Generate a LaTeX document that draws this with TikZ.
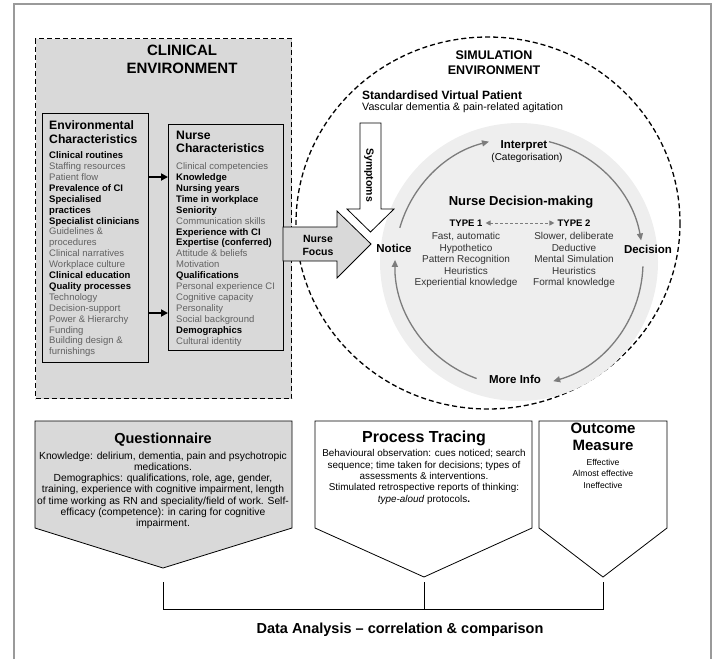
\documentclass[tikz,border=0pt]{standalone}
\usepackage{fontspec}
\setmainfont{Liberation Sans}
\usetikzlibrary{arrows.meta}

\definecolor{panelgrey}{HTML}{D9D9D9}
\definecolor{discgrey}{HTML}{EEEEEE}
\definecolor{framegrey}{HTML}{9A9A9A}
\definecolor{itemgrey}{HTML}{626262}
\definecolor{cyclegrey}{HTML}{7C7C7C}
\definecolor{typegrey}{HTML}{333333}

% bold black entry inside a grey list
\newcommand{\keyitem}[1]{{\color{black}\bfseries #1}}

\begin{document}
\begin{tikzpicture}[x=1pt, y=-1pt,
  every node/.style={inner sep=0pt},
  panel/.style={draw, fill=panelgrey, line width=0.8pt},
  envzone/.style={draw, fill=panelgrey, line width=1.3pt, dash pattern=on 5pt off 3pt},
  simzone/.style={draw, line width=1.3pt, dash pattern=on 5pt off 3pt},
  zonetitle/.style={font=\bfseries\fontsize{15}{18}\selectfont, align=center, anchor=north},
  boxtitle/.style={font=\bfseries\fontsize{12.2}{13.5}\selectfont, align=left, anchor=north west},
  itemlist/.style={font=\fontsize{9.5}{10.9}\selectfont, text=itemgrey, align=left, anchor=north west},
  pushline/.style={-{Triangle[length=7pt,width=7pt]}, line width=1.8pt},
  blockarrow/.style={draw, line width=0.8pt, line join=miter},
  stagelabel/.style={font=\bfseries\fontsize{11.5}{14}\selectfont},
  cyclearrow/.style={draw=cyclegrey, line width=1.3pt, -{Triangle[length=7pt,width=6pt]}},
  typelist/.style={font=\fontsize{10}{11.5}\selectfont, text=typegrey, align=center, anchor=north},
  pentatitle/.style={font=\bfseries\fontsize{14.5}{17}\selectfont, align=center},
  pentabody/.style={font=\fontsize{10.3}{11.3}\selectfont, align=center, anchor=north}
]
\useasboundingbox (0,0) rectangle (720,659);

% outer frame, open at the foot
\draw[framegrey, line width=2pt] (14,659) -- (14,4) -- (711,4) -- (711,659);

% clinical environment
\node[envzone, minimum width=256pt, minimum height=360pt, anchor=north west] (clinical) at (35,38) {};
\node[zonetitle] (clinicaltitle) at (182,44.6) {CLINICAL\\ENVIRONMENT};

\node[panel, minimum width=106pt, minimum height=249pt, anchor=north west] (envchar) at (42,113) {};
\node[boxtitle] (envtitle) at (49,120.6) {Environmental\\Characteristics};
\node[itemlist] (envlist) at (49,151.6) {\keyitem{Clinical routines}\\
Staffing resources\\
Patient flow\\
\keyitem{Prevalence of CI}\\
\keyitem{Specialised}\\
\keyitem{practices}\\
\keyitem{Specialist clinicians}\\
Guidelines \&\\
procedures\\
Clinical narratives\\
Workplace culture\\
\keyitem{Clinical education}\\
\keyitem{Quality processes}\\
Technology\\
Decision-support\\
Power \& Hierarchy\\
Funding\\
Building design \&\\
furnishings};

\node[panel, minimum width=115pt, minimum height=226pt, anchor=north west] (nursechar) at (168,124) {};
\node[boxtitle] (nursetitle) at (176,130.6) {Nurse\\Characteristics};
\node[itemlist] (nurselist) at (176,162.6) {Clinical competencies\\
\keyitem{Knowledge}\\
\keyitem{Nursing years}\\
\keyitem{Time in workplace}\\
\keyitem{Seniority}\\
Communication skills\\
\keyitem{Experience with CI}\\
\keyitem{Expertise (conferred)}\\
Attitude \& beliefs\\
Motivation\\
\keyitem{Qualifications}\\
Personal experience CI\\
Cognitive capacity\\
Personality\\
Social background\\
\keyitem{Demographics}\\
Cultural identity};

\coordinate (linkA) at (0,177);
\coordinate (linkB) at (0,313);
\draw[pushline] (envchar.east |- linkA) -- (nursechar.west |- linkA);
\draw[pushline] (envchar.east |- linkB) -- (nursechar.west |- linkB);

% simulation environment
\coordinate (simcentre) at (488,223);
\coordinate (hub) at (519,262);
\draw[simzone] (simcentre) ellipse [x radius=192, y radius=186];
\fill[discgrey] (hub) circle [radius=139];
\node[zonetitle, font=\fontsize{12.5}{15}\selectfont] (simtitle) at (494,50.5) {\textbf{SIMULATION}\\\textbf{ENVIRONMENT}};
\node[anchor=west, font=\bfseries\fontsize{12}{14}\selectfont] (svp) at (362,95) {Standardised Virtual Patient};
\node[anchor=west, font=\fontsize{10.7}{13}\selectfont] (svpcase) at (362,108) {Vascular dementia \& pain-related agitation};

% decision cycle
\draw[cyclearrow] ([shift={(196:124)}]hub) arc [start angle=196, end angle=256, radius=124];
\draw[cyclearrow] ([shift={(284:124)}]hub) arc [start angle=284, end angle=350, radius=124];
\draw[cyclearrow] ([shift={(2:124)}]hub) arc [start angle=2, end angle=74, radius=124];
\draw[cyclearrow] ([shift={(110:124)}]hub) arc [start angle=110, end angle=181, radius=124];

\node[stagelabel] (notice) at (394,248) {Notice};
\node[stagelabel] (interpret) at (524,146) {Interpret};
\node[font=\fontsize{10}{12}\selectfont] (categorise) at (527,158) {(Categorisation)};
\node[stagelabel] (decision) at (648,249) {Decision};
\node[stagelabel] (moreinfo) at (515,379) {More Info};

\node[font=\bfseries\fontsize{13}{15}\selectfont] (decmaking) at (521,202) {Nurse Decision-making};
\node[font=\bfseries\fontsize{9.5}{11}\selectfont] (type1) at (466,223) {TYPE 1};
\node[font=\bfseries\fontsize{9.5}{11}\selectfont] (type2) at (574,223) {TYPE 2};
\draw[cyclegrey, line width=0.9pt, dash pattern=on 3pt off 2pt, {Triangle[length=5pt,width=5pt]}-{Triangle[length=5pt,width=5pt]}, shorten <=3pt, shorten >=3pt] (type1) -- (type2);
\node[typelist] (fastlist) at (466,232.4) {Fast, automatic\\Hypothetico\\Pattern Recognition\\Heuristics\\Experiential knowledge};
\node[typelist] (slowlist) at (574,232.4) {Slower, deliberate\\Deductive\\Mental Simulation\\Heuristics\\Formal knowledge};

% block arrows into the cycle
\draw[blockarrow, fill=white] (360,123) -- (381,123) -- (381,209) -- (394,209) -- (370.5,232) -- (347,209) -- (360,209) -- cycle;
\node[rotate=-90, font=\bfseries\fontsize{10.5}{12}\selectfont] (symptoms) at (369,175) {Symptoms};
\draw[blockarrow, fill=panelgrey] (283,227) -- (337,227) -- (337,211) -- (371,244) -- (337,278) -- (337,261) -- (283,261) -- cycle;
\node[align=center, font=\bfseries\fontsize{10.5}{13}\selectfont] (focus) at (318,245) {Nurse\\Focus};

% data collection
\coordinate (qtip) at (163,568);
\coordinate (ptip) at (424,577);
\coordinate (otip) at (603,577);
\draw[panel, line join=miter] (35,421) -- (292,421) -- (292,528) -- (qtip) -- (35,528) -- cycle;
\draw[line width=0.8pt, line join=miter] (315,421) -- (532,421) -- (532,528) -- (ptip) -- (315,528) -- cycle;
\draw[line width=0.8pt, line join=miter] (539,421) -- (667,421) -- (667,528) -- (otip) -- (539,528) -- cycle;

\node[pentatitle] (questionnaire) at (163,440) {Questionnaire};
\node[pentabody] (questbody) at (163,451.4) {Knowledge: delirium, dementia, pain and psychotropic\\
medications.\\
Demographics: qualifications, role, age, gender,\\
training, experience with cognitive impairment, length\\
of time working as RN and speciality/field of work. Self-\\
efficacy (competence): in caring for cognitive\\
impairment.};

\node[pentatitle, font=\bfseries\fontsize{16}{18}\selectfont] (tracing) at (424,438) {Process Tracing};
\node[pentabody, font=\fontsize{9.9}{11.3}\selectfont] (tracebody) at (424,449.6) {Behavioural observation: cues noticed; search\\
sequence; time taken for decisions; types of\\
assessments \& interventions.\\
Stimulated retrospective reports of thinking:\\
\textit{type-aloud} protocols\textbf{.}};

\node[pentatitle, anchor=north, font=\bfseries\fontsize{15}{17}\selectfont] (outcome) at (603,423) {Outcome\\Measure};
\node[pentabody, font=\fontsize{8.6}{11.5}\selectfont] (outcomebody) at (603,459) {Effective\\Almost effective\\Ineffective};

% bracket into the analysis
\coordinate (qfoot) at (163,582);
\coordinate (pfoot) at (424,582);
\coordinate (ofoot) at (603,582);
\coordinate (bracketL) at (163,609);
\coordinate (bracketR) at (603,609);
\draw[line width=1pt] (qfoot) -- (bracketL) -- (bracketR) -- (ofoot);
\draw[line width=1pt] (pfoot) -- (pfoot |- bracketL);
\node[font=\bfseries\fontsize{14.5}{17}\selectfont] (analysis) at (400,630) {Data Analysis -- correlation \& comparison};
\end{tikzpicture}
\end{document}
